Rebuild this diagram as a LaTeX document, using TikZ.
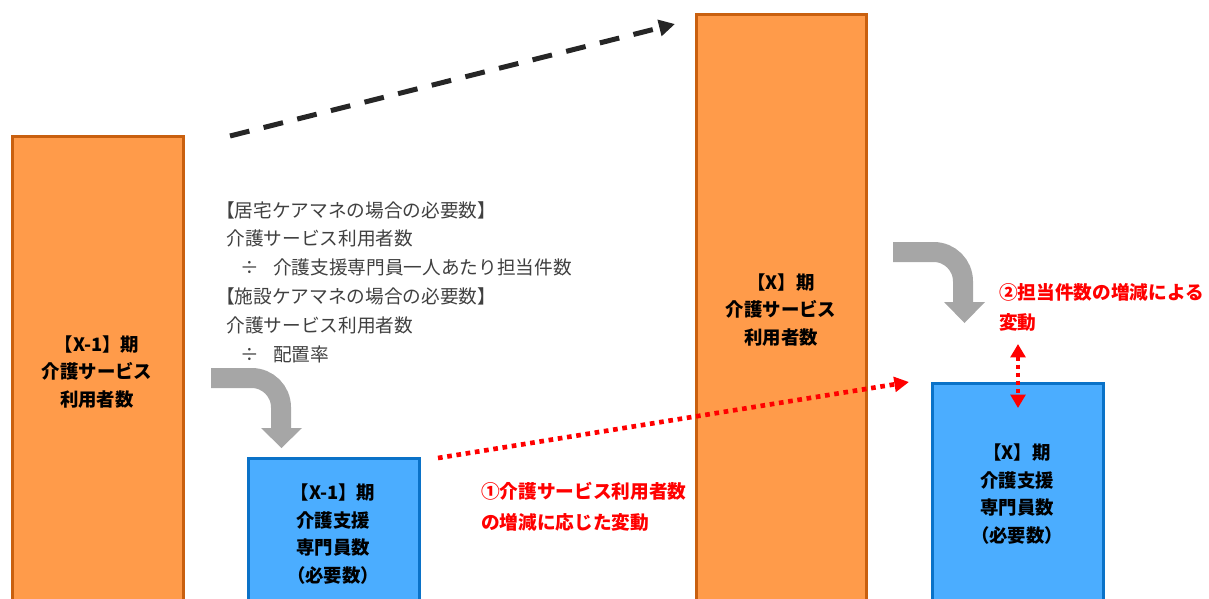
\documentclass[tikz,border=0pt]{standalone}
\usepackage{fontspec}
\setmainfont{Noto Sans CJK JP}
\usetikzlibrary{arrows.meta}
\definecolor{orfill}{HTML}{FF9B4A}
\definecolor{ordraw}{HTML}{C9600F}
\definecolor{blfill}{HTML}{4BADFF}
\definecolor{bldraw}{HTML}{0A72C8}
\definecolor{bentgray}{HTML}{A6A6A6}
\definecolor{txtgray}{HTML}{404040}
\definecolor{dashdark}{HTML}{262626}
\definecolor{redc}{HTML}{FF0000}
\tikzset{
  orbar/.style={fill=orfill,draw=ordraw,line width=2.25pt},
  blbar/.style={fill=blfill,draw=bldraw,line width=2.25pt},
  bartext/.style={font=\fontsize{13.8}{20.7}\selectfont\bfseries,text=black,align=center,inner sep=0pt},
  graytext/.style={font=\fontsize{14}{21.6}\selectfont,text=txtgray,align=left,inner sep=0pt,anchor=north west},
  redtext/.style={font=\fontsize{14}{23}\selectfont\bfseries,text=redc,align=left,inner sep=0pt,anchor=north west},
  bentshaft/.style={draw=bentgray,line width=15pt,rounded corners=22pt},
  benthead/.style={fill=bentgray},
  dasharrow/.style={draw=dashdark,line width=3.75pt,dash pattern=on 15pt off 11pt,-{Triangle[length=12pt,width=12pt]}},
  dotarrow/.style={draw=redc,line width=3.5pt,dash pattern=on 3.5pt off 3.5pt,-{Triangle[length=11pt,width=11pt]}},
  dotdouble/.style={draw=redc,line width=3pt,dash pattern=on 3pt off 3pt,{Triangle[length=10pt,width=11pt]}-{Triangle[length=10pt,width=11pt]}},
}
\begin{document}
\begin{tikzpicture}[x=0.75pt,y=-0.75pt]
\useasboundingbox (0,0) rectangle (1209,599);
\begin{scope}
\clip (0,0) rectangle (1209,599);
% bars
\draw[orbar] (12,137) rectangle (183,620);
\draw[orbar] (696,15) rectangle (866,620);
\draw[blbar] (248,458) rectangle (419,620);
\draw[blbar] (932,383) rectangle (1103,620);
\end{scope}
% bar texts
\node[bartext] (tA) at (97,372) {【X-1】期\\介護サービス\\利用者数};
\node[bartext] (tB) at (781,310) {【X】期\\介護サービス\\利用者数};
\node[bartext] (tC) at (333,534) {【X-1】期\\介護支援\\専門員数\\（必要数）};
\node[bartext] (tD) at (1017,494) {【X】期\\介護支援\\専門員数\\（必要数）};
% gray explanatory text
\node[graytext] (gt) at (216,201) {【居宅ケアマネの場合の必要数】\\\hspace*{0.55em}介護サービス利用者数\\\hspace*{1.3em}÷\hspace*{0.75em}介護支援専門員一人あたり担当件数\\【施設ケアマネの場合の必要数】\\\hspace*{0.55em}介護サービス利用者数\\\hspace*{1.3em}÷\hspace*{0.75em}配置率};
% bent arrows
\coordinate (b1s) at (211,378);
\coordinate (b1c) at (281,378);
\coordinate (b1e) at (281,429);
\draw[bentshaft] (b1s) -- (b1c) -- (b1e);
\fill[benthead] (261,428) -- (302,428) -- (281.5,448) -- cycle;
\coordinate (b2s) at (893,252);
\coordinate (b2c) at (963,252);
\coordinate (b2e) at (963,303);
\draw[bentshaft] (b2s) -- (b2c) -- (b2e);
\fill[benthead] (944,302) -- (985,302) -- (964.5,323) -- cycle;
% dashed arrow
\coordinate (dS) at (230,136);
\coordinate (dE) at (675,24);
\draw[dasharrow] (dS) -- (dE);
% red dotted arrow
\coordinate (rS) at (438,458);
\coordinate (rE) at (909,382);
\draw[dotarrow] (rS) -- (rE);
% vertical double arrow
\coordinate (vT) at (1018,344);
\coordinate (vB) at (1018,408);
\draw[dotdouble] (vT) -- (vB);
% red labels
\node[redtext] (l1) at (481,482) {①介護サービス利用者数\\の増減に応じた変動};
\node[redtext] (l2) at (999,283) {②担当件数の増減による\\変動};
\end{tikzpicture}
\end{document}
